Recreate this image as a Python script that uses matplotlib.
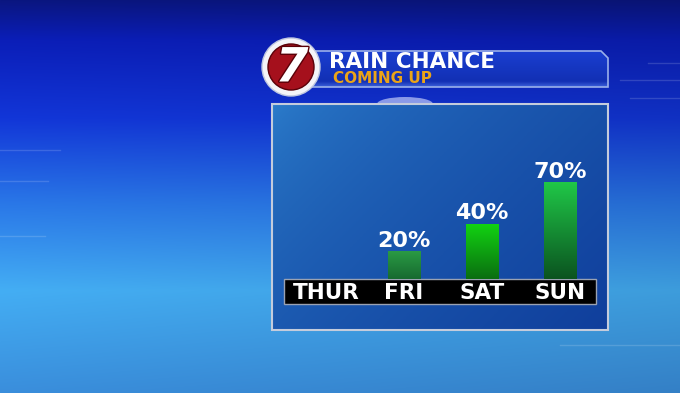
#!/usr/bin/python3
# -*- coding: utf-8 -*-

import numpy as np
import matplotlib
matplotlib.use("Agg")
import matplotlib.pyplot as plt
from matplotlib.colors import to_rgb
from matplotlib.patches import Rectangle, Circle, Polygon, Ellipse
import matplotlib.patheffects as pe

days = ["THUR", "FRI", "SAT", "SUN"]
rain_chance = [0, 20, 40, 70]
title = "RAIN CHANCE"
subtitle = "COMING UP"

# bar colours, top -> bottom
bar_top = ["#22a040", "#2a9a44", "#12d412", "#20c848"]
bar_bottom = ["#145a28", "#176a30", "#0a6e10", "#0b5420"]

W, H = 680, 393


def grad(stops, n):
    pos = [s[0] for s in stops]
    cols = np.array([to_rgb(s[1]) for s in stops])
    t = np.linspace(0, 1, n)
    return np.stack([np.interp(t, pos, cols[:, k]) for k in range(3)], axis=-1)


def save_img():
    fig = plt.figure(figsize=(W / 100, H / 100), dpi=100)
    ax = fig.add_axes([0, 0, 1, 1])
    ax.set_xlim(0, W)
    ax.set_ylim(H, 0)
    ax.axis("off")

    # background
    col = grad([(0, "#0a1680"), (0.1, "#0b1eb8"), (0.3, "#1236d8"),
                (0.52, "#2a78e8"), (0.74, "#44aef4"), (1, "#3a8edc")], H)
    bg = np.repeat(col[:, None, :], W, axis=1)
    shade = 1 - 0.10 * np.linspace(0, 1, W)[None, :, None]
    ax.imshow(np.clip(bg * shade, 0, 1), extent=[0, W, H, 0], aspect="auto", zorder=0)

    # faint decoration lines
    for x0, x1, y in [(0, 48, 181), (0, 60, 150), (0, 45, 236), (648, 680, 63),
                      (630, 680, 98), (620, 680, 80), (560, 680, 345)]:
        ax.plot([x0, x1], [y, y], color="white", alpha=0.15, lw=1, zorder=1)

    # header bar
    corners = [(312, 51), (601, 51), (608, 58), (608, 87), (312, 87)]
    hdr = Polygon(corners, closed=True, facecolor="#1a3cc6", edgecolor="none", zorder=2)
    ax.add_patch(hdr)
    hg = grad([(0, "#1a3ed0"), (0.85, "#1230b4"), (1, "#3a5ed8")], 40)
    im = ax.imshow(np.repeat(hg[:, None, :], 10, axis=1), extent=[312, 608, 87, 51],
                   aspect="auto", zorder=2.1)
    im.set_clip_path(hdr)
    ax.add_patch(Polygon(corners, closed=True, fill=False, edgecolor="#9ab0ea", lw=1.2, zorder=2.2))
    ax.text(329, 68, title, color="white", fontsize=15.5, fontweight="bold",
            family="DejaVu Sans", va="baseline", ha="left", zorder=3)
    ax.text(333, 83, subtitle, color="#eaa418", fontsize=11, fontweight="bold",
            family="DejaVu Sans", va="baseline", ha="left", zorder=3)

    # logo
    ax.add_patch(Circle((291, 67), 29, facecolor="#f4f4f8", edgecolor="#c0c8e0", lw=1, zorder=4))
    ax.add_patch(Circle((291, 67), 23, facecolor="#a5101c", edgecolor="#5a0008", lw=1, zorder=4.1))
    ax.text(292, 69, "7", color="white", fontsize=34, fontweight="bold", style="italic",
            family="DejaVu Sans", ha="center", va="center", zorder=4.2,
            path_effects=[pe.withStroke(linewidth=2, foreground="#5a0008")])

    # panel
    ax.add_patch(Ellipse((405, 104), 56, 14, facecolor="#8a9ae8", edgecolor="none", zorder=2))
    u = np.linspace(0, 1, 100)
    t = (u[None, :] * 0.6 + u[:, None] * 0.4) ** 0.6
    c0, c1 = np.array(to_rgb("#2c7ecc")), np.array(to_rgb("#103f9c"))
    pg = c0 + (c1 - c0) * t[..., None]
    ax.imshow(pg, extent=[272, 608, 330, 104], aspect="auto", zorder=3)
    ax.add_patch(Rectangle((272, 104), 336, 226, fill=False, edgecolor="#c4ccdc", lw=1.5, zorder=3.1))

    # day strip
    ax.add_patch(Rectangle((284, 279), 312, 25, facecolor="black", edgecolor="#9aa2b2",
                           lw=1, zorder=3.2))

    # bars
    bx = fig.add_axes([284 / W, 1 - 279 / H, 312 / W, 129 / H])
    x = np.arange(len(days))
    bars = bx.bar(x, rain_chance, width=0.42, color="none", edgecolor="none")
    for i, (b, v) in enumerate(zip(bars, rain_chance)):
        if v <= 0:
            continue
        g = grad([(0, bar_top[i]), (1, bar_bottom[i])], 60)
        im = bx.imshow(np.repeat(g[:, None, :], 4, axis=1),
                       extent=[x[i] - 0.21, x[i] + 0.21, 0, v], aspect="auto", zorder=2)
        im.set_clip_path(b)
        bx.annotate(f"{v}%", (x[i], v), xytext=(0, 3), textcoords="offset points",
                    ha="center", va="baseline", color="white", fontsize=16,
                    fontweight="bold", family="DejaVu Sans", annotation_clip=False)
    bx.set_xlim(-0.538, 3.462)
    bx.set_ylim(0, 93)
    bx.axis("off")
    for i, d in enumerate(days):
        bx.text(x[i], -20 / 129, d, transform=bx.get_xaxis_transform(), ha="center",
                va="baseline", color="white", fontsize=15.5, fontweight="bold",
                family="DejaVu Sans", clip_on=False)

    fig.savefig("out.png", dpi=100)


def main():
    save_img()


if __name__ == "__main__":
    main()
